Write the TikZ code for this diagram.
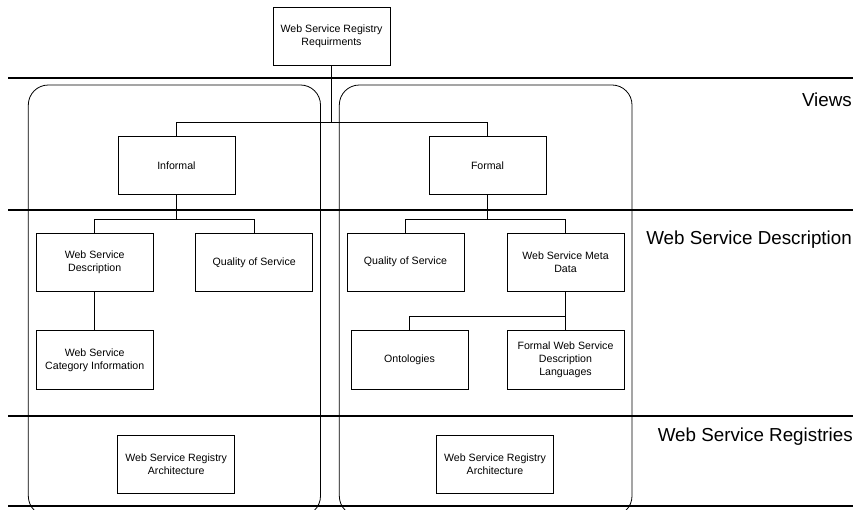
\documentclass[tikz,border=0pt]{standalone}
\usepackage{fontspec}
\setmainfont{Liberation Sans}
\begin{document}
\begin{tikzpicture}[x=1pt,y=-1pt,
  box/.style={draw, line width=0.8pt, minimum width=117pt, minimum height=58.5pt,
    inner sep=1pt, align=center, font=\fontsize{10.6}{13}\selectfont},
  lane/.style={draw, line width=0.8pt, rounded corners=20pt},
  rule/.style={line width=1.4pt},
  link/.style={line width=0.8pt},
  trunk/.style={line width=1.6pt},
  laneLabel/.style={anchor=east, inner sep=0pt, font=\fontsize{18.8}{22}\selectfont}]
\useasboundingbox (0,0) rectangle (856,510);

% layer separators
\draw[rule] (8,78) -- (853,78);
\draw[rule] (8,210) -- (853,210);
\draw[rule] (8,416) -- (853,416);
\draw[rule] (8,506) -- (853,506);

% the two view columns
\draw[lane] (28.3,85) rectangle (320.5,516);
\draw[lane] (339.3,85) rectangle (632,516);

% layer names
\node[laneLabel] (lViews) at (852,100) {Views};
\node[laneLabel] (lDesc) at (852,240) {Web Service Description};
\node[laneLabel] (lReg) at (853,437) {Web Service Registries};

% boxes
\node[box, fill=white] (req) at (331.5,36.5) {Web Service Registry\\Requirments};
\node[box] (informal) at (176.4,165.3) {Informal};
\node[box] (formal) at (487.5,165.3) {Formal};

\node[box] (wsd) at (94.7,262.5) {Web Service\\Description};
\node[box] (qosL) at (254.2,262.5) {Quality of Service};
\node[box] (wsci) at (94.7,360) {Web Service\\Category Information};

\node[box] (qosR) at (405.5,262.2) {Quality of Service};
\node[box] (wsmd) at (565.5,262.2) {Web Service Meta\\Data};
\node[box] (onto) at (409.5,360) {Ontologies};
\node[box] (fwsdl) at (565.5,360) {Formal Web Service\\Description\\Languages};

\node[box] (regL) at (176.2,464.5) {Web Service Registry\\Architecture};
\node[box] (regR) at (495,464.5) {Web Service Registry\\Architecture};

% bus levels
\coordinate (busViews) at (331.5,122.3);
\coordinate (busDesc) at (0,219.5);
\coordinate (busMeta) at (0,316.7);

% connectors
\draw[trunk] (req.south) -- (busViews);
\draw[link] (informal.north) |- (formal.north |- busViews) -- (formal.north);

\draw[link] (informal.south) -- (informal.south |- busDesc);
\draw[link] (wsd.north) |- (qosL.north |- busDesc) -- (qosL.north);
\draw[link] (wsd.south) -- (wsci.north);

\draw[link] (formal.south) -- (formal.south |- busDesc);
\draw[link] (qosR.north) |- (wsmd.north |- busDesc) -- (wsmd.north);
\draw[link] (wsmd.south) -- (fwsdl.north);
\draw[link] (onto.north) |- (wsmd.south |- busMeta);
\end{tikzpicture}
\end{document}
